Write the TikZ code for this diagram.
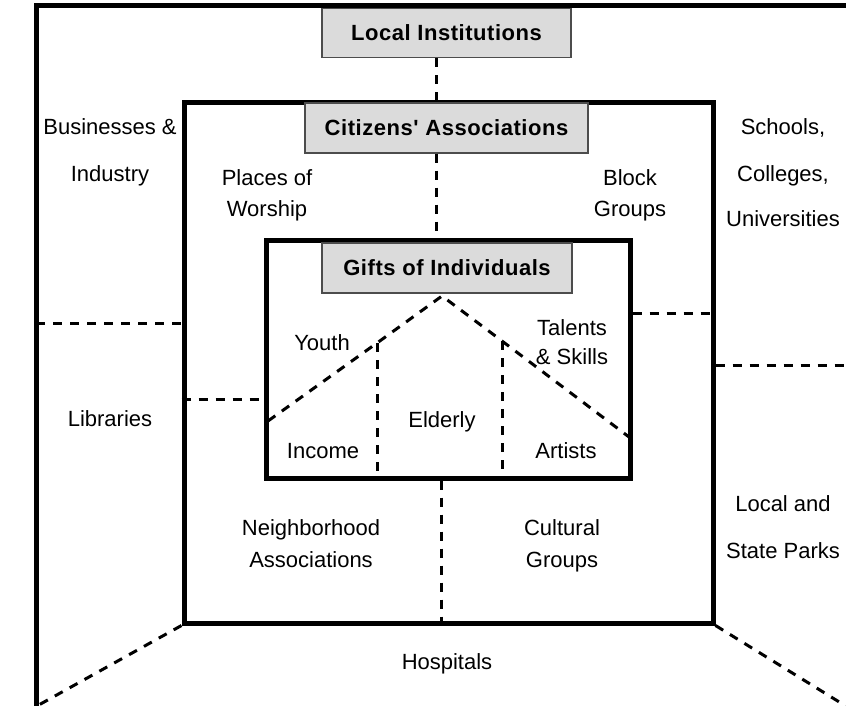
\documentclass[tikz,border=0pt]{standalone}
\usepackage{fontspec}
\setmainfont{Liberation Sans}
\begin{document}
\begin{tikzpicture}[x=1pt,y=-1pt,
  frameline/.style={line width=5pt},
  bigbox/.style={draw, rectangle, line width=5pt, inner sep=0pt},
  graybox/.style={draw=black!70, fill=black!14, line width=1.3pt, inner sep=0pt,
    font=\bfseries\addfontfeatures{LetterSpace=2.5,Ligatures=TeXOff}\fontsize{22}{26}\selectfont},
  lbl/.style={inner sep=0pt, anchor=base, font=\fontsize{22}{26}\selectfont},
  dashline/.style={line width=3pt, dash pattern=on 9pt off 8pt}]
\useasboundingbox (0,0) rectangle (846,706);
\clip (0,0) rectangle (846,706);
\fill[white] (0,0) rectangle (846,706);

% outer frame (extends beyond the picture)
\draw[frameline] (36,730) -- (36,6) -- (870,6);

% boxes
\node[bigbox, minimum width=529pt, minimum height=520pt] (mid) at (448.5,363) {};
\node[bigbox, minimum width=364pt, minimum height=238pt] (inn) at (448,359) {};
\node[graybox, minimum width=249pt, minimum height=49pt] (li) at (446.5,33) {Local Institutions};
\node[graybox, minimum width=283pt, minimum height=50pt] (ca) at (446.5,128) {Citizens' Associations};
\node[graybox, minimum width=250pt, minimum height=50pt] (gi) at (447,268) {Gifts of Individuals};

% helper coordinates
\coordinate (xa) at (436,0);
\coordinate (xb) at (441,0);
\coordinate (oL) at (36,323);
\coordinate (yL) at (0,323);
\coordinate (yL2) at (0,399);
\coordinate (yR) at (0,313);
\coordinate (yR2) at (0,365);
\coordinate (oR) at (860,365);
\coordinate (dL) at (10,721);
\coordinate (dR) at (870,721);
\coordinate (ap) at (442,296);
\coordinate (lv) at (377,343);
\coordinate (le) at (268,421);
\coordinate (rv) at (502,341);
\coordinate (re) at (629,437);

% dashed connectors
\draw[dashline] (li.south -| xa) -- (mid.north -| xa);
\draw[dashline] (ca.south -| xa) -- (inn.north -| xa);
\draw[dashline] (inn.south -| xb) -- (mid.south -| xb);
\draw[dashline] (oL) -- (mid.west |- yL);
\draw[dashline] (mid.west |- yL2) -- (inn.west |- yL2);
\draw[dashline] (inn.east |- yR) -- (mid.east |- yR);
\draw[dashline] (mid.east |- yR2) -- (oR);
\draw[dashline] (mid.south west) -- (dL);
\draw[dashline] (mid.south east) -- (dR);
\draw[dashline] (le) -- (lv) -- (ap) -- (rv) -- (re);
\draw[dashline] (lv) -- (inn.south -| lv);
\draw[dashline] (rv) -- (inn.south -| rv);

% labels
\node[lbl] (t1) at (110,135) {Businesses \&};
\node[lbl] (t2) at (110,181) {Industry};
\node[lbl] (t3) at (267,185) {Places of};
\node[lbl] (t4) at (267,216) {Worship};
\node[lbl] (t5) at (630,185) {Block};
\node[lbl] (t6) at (630,216) {Groups};
\node[lbl] (t7) at (783,135) {Schools,};
\node[lbl] (t8) at (783,181) {Colleges,};
\node[lbl] (t9) at (783,226) {Universities};
\node[lbl] (t10) at (110,426) {Libraries};
\node[lbl] (t11) at (783,511) {Local and};
\node[lbl] (t12) at (783,558) {State Parks};
\node[lbl] (t13) at (311,535) {Neighborhood};
\node[lbl] (t14) at (311,567) {Associations};
\node[lbl] (t15) at (562,535) {Cultural};
\node[lbl] (t16) at (562,567) {Groups};
\node[lbl] (t17) at (447,669) {Hospitals};
\node[lbl] (t18) at (322,350) {Youth};
\node[lbl] (t19) at (572,335) {Talents};
\node[lbl] (t20) at (572,364) {\& Skills};
\node[lbl] (t21) at (442,427) {Elderly};
\node[lbl] (t22) at (323,458) {Income};
\node[lbl] (t23) at (566,458) {Artists};
\end{tikzpicture}
\end{document}
